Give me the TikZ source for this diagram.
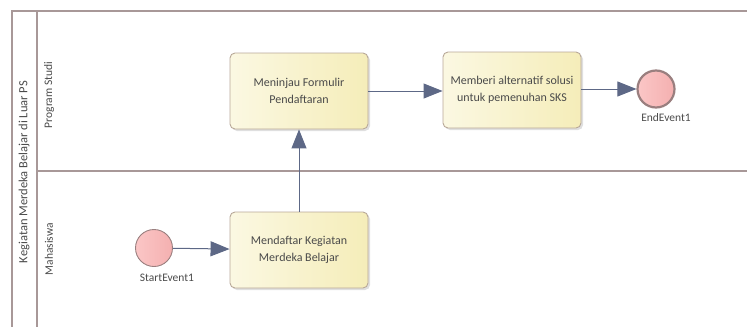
\documentclass[tikz,border=0pt]{standalone}
\usepackage{fontspec}
\setmainfont{Carlito}
\usepackage{tikz}
\usetikzlibrary{arrows.meta,shadows}
\definecolor{poolln}{HTML}{A89898}
\definecolor{taskln}{HTML}{B8A898}
\definecolor{taskl}{HTML}{FBF8E2}
\definecolor{taskr}{HTML}{F5EDB9}
\definecolor{evtln}{HTML}{9A7F7F}
\definecolor{evtl}{HTML}{FBC6C6}
\definecolor{evtr}{HTML}{F4B0B0}
\definecolor{flowc}{HTML}{5D6886}
\definecolor{txt}{HTML}{4A4A4A}

\begin{document}
\begin{tikzpicture}[
      x=1pt, y=-1pt,
      task/.style={
        rectangle, rounded corners=5pt, draw=taskln, line width=0.9pt,
        left color=taskl, right color=taskr,
        minimum width=138pt, minimum height=76pt,
        align=center, text=txt, font=\fontsize{12}{16.5}\selectfont,
        drop shadow={shadow xshift=2pt, shadow yshift=-2pt, opacity=0.25}
      },
      evt/.style={
        circle, draw=evtln, left color=evtl, right color=evtr,
        inner sep=0pt, minimum size=37pt
      },
      lbl/.style={text=txt, font=\fontsize{11.5}{13}\selectfont},
      flow/.style={
        draw=flowc, line width=1pt,
        -{Triangle[length=19pt, width=15pt]}
      }
    ]
      \useasboundingbox (0,0) rectangle (747,327);

      % pool and lanes
      \draw[poolln, line width=1.2pt] (747,11) -- (12,11) -- (12,327);
      \draw[poolln, line width=1.2pt] (37,11) -- (37,327);
      \draw[poolln, line width=1.2pt] (37,171) -- (747,171);
      \node[lbl, rotate=90, font=\fontsize{12.5}{14}\selectfont] (pool) at (24,172){Kegiatan Merdeka Belajar di Luar PS};
      \node[lbl, rotate=90] (prodi) at (49,95){Program Studi};
      \node[lbl, rotate=90] (mhs) at (49,249){Mahasiswa};

      % events and tasks
      \node[evt, line width=0.9pt] (start) at (154,248){};
      \node[lbl] (startlbl) at (167,278){StartEvent1};
      \node[task] (daftar) at (299,250){Mendaftar Kegiatan\\Merdeka Belajar};
      \node[task] (tinjau) at (299,91){Meninjau Formulir\\Pendaftaran};
      \node[task] (solusi) at (512,90){Memberi alternatif solusi\\untuk pemenuhan SKS};
      \node[evt, line width=2.2pt] (end) at (656,89){};
      \node[lbl] (endlbl) at (666,118){EndEvent1};

      \draw[flow] (start) -- (daftar);
      \draw[flow] (daftar) -- (tinjau);
      \draw[flow] (tinjau.east) -- (solusi.west |- tinjau.east);
      \draw[flow] (solusi.east |- end) -- (end);
    \end{tikzpicture}
\end{document}
